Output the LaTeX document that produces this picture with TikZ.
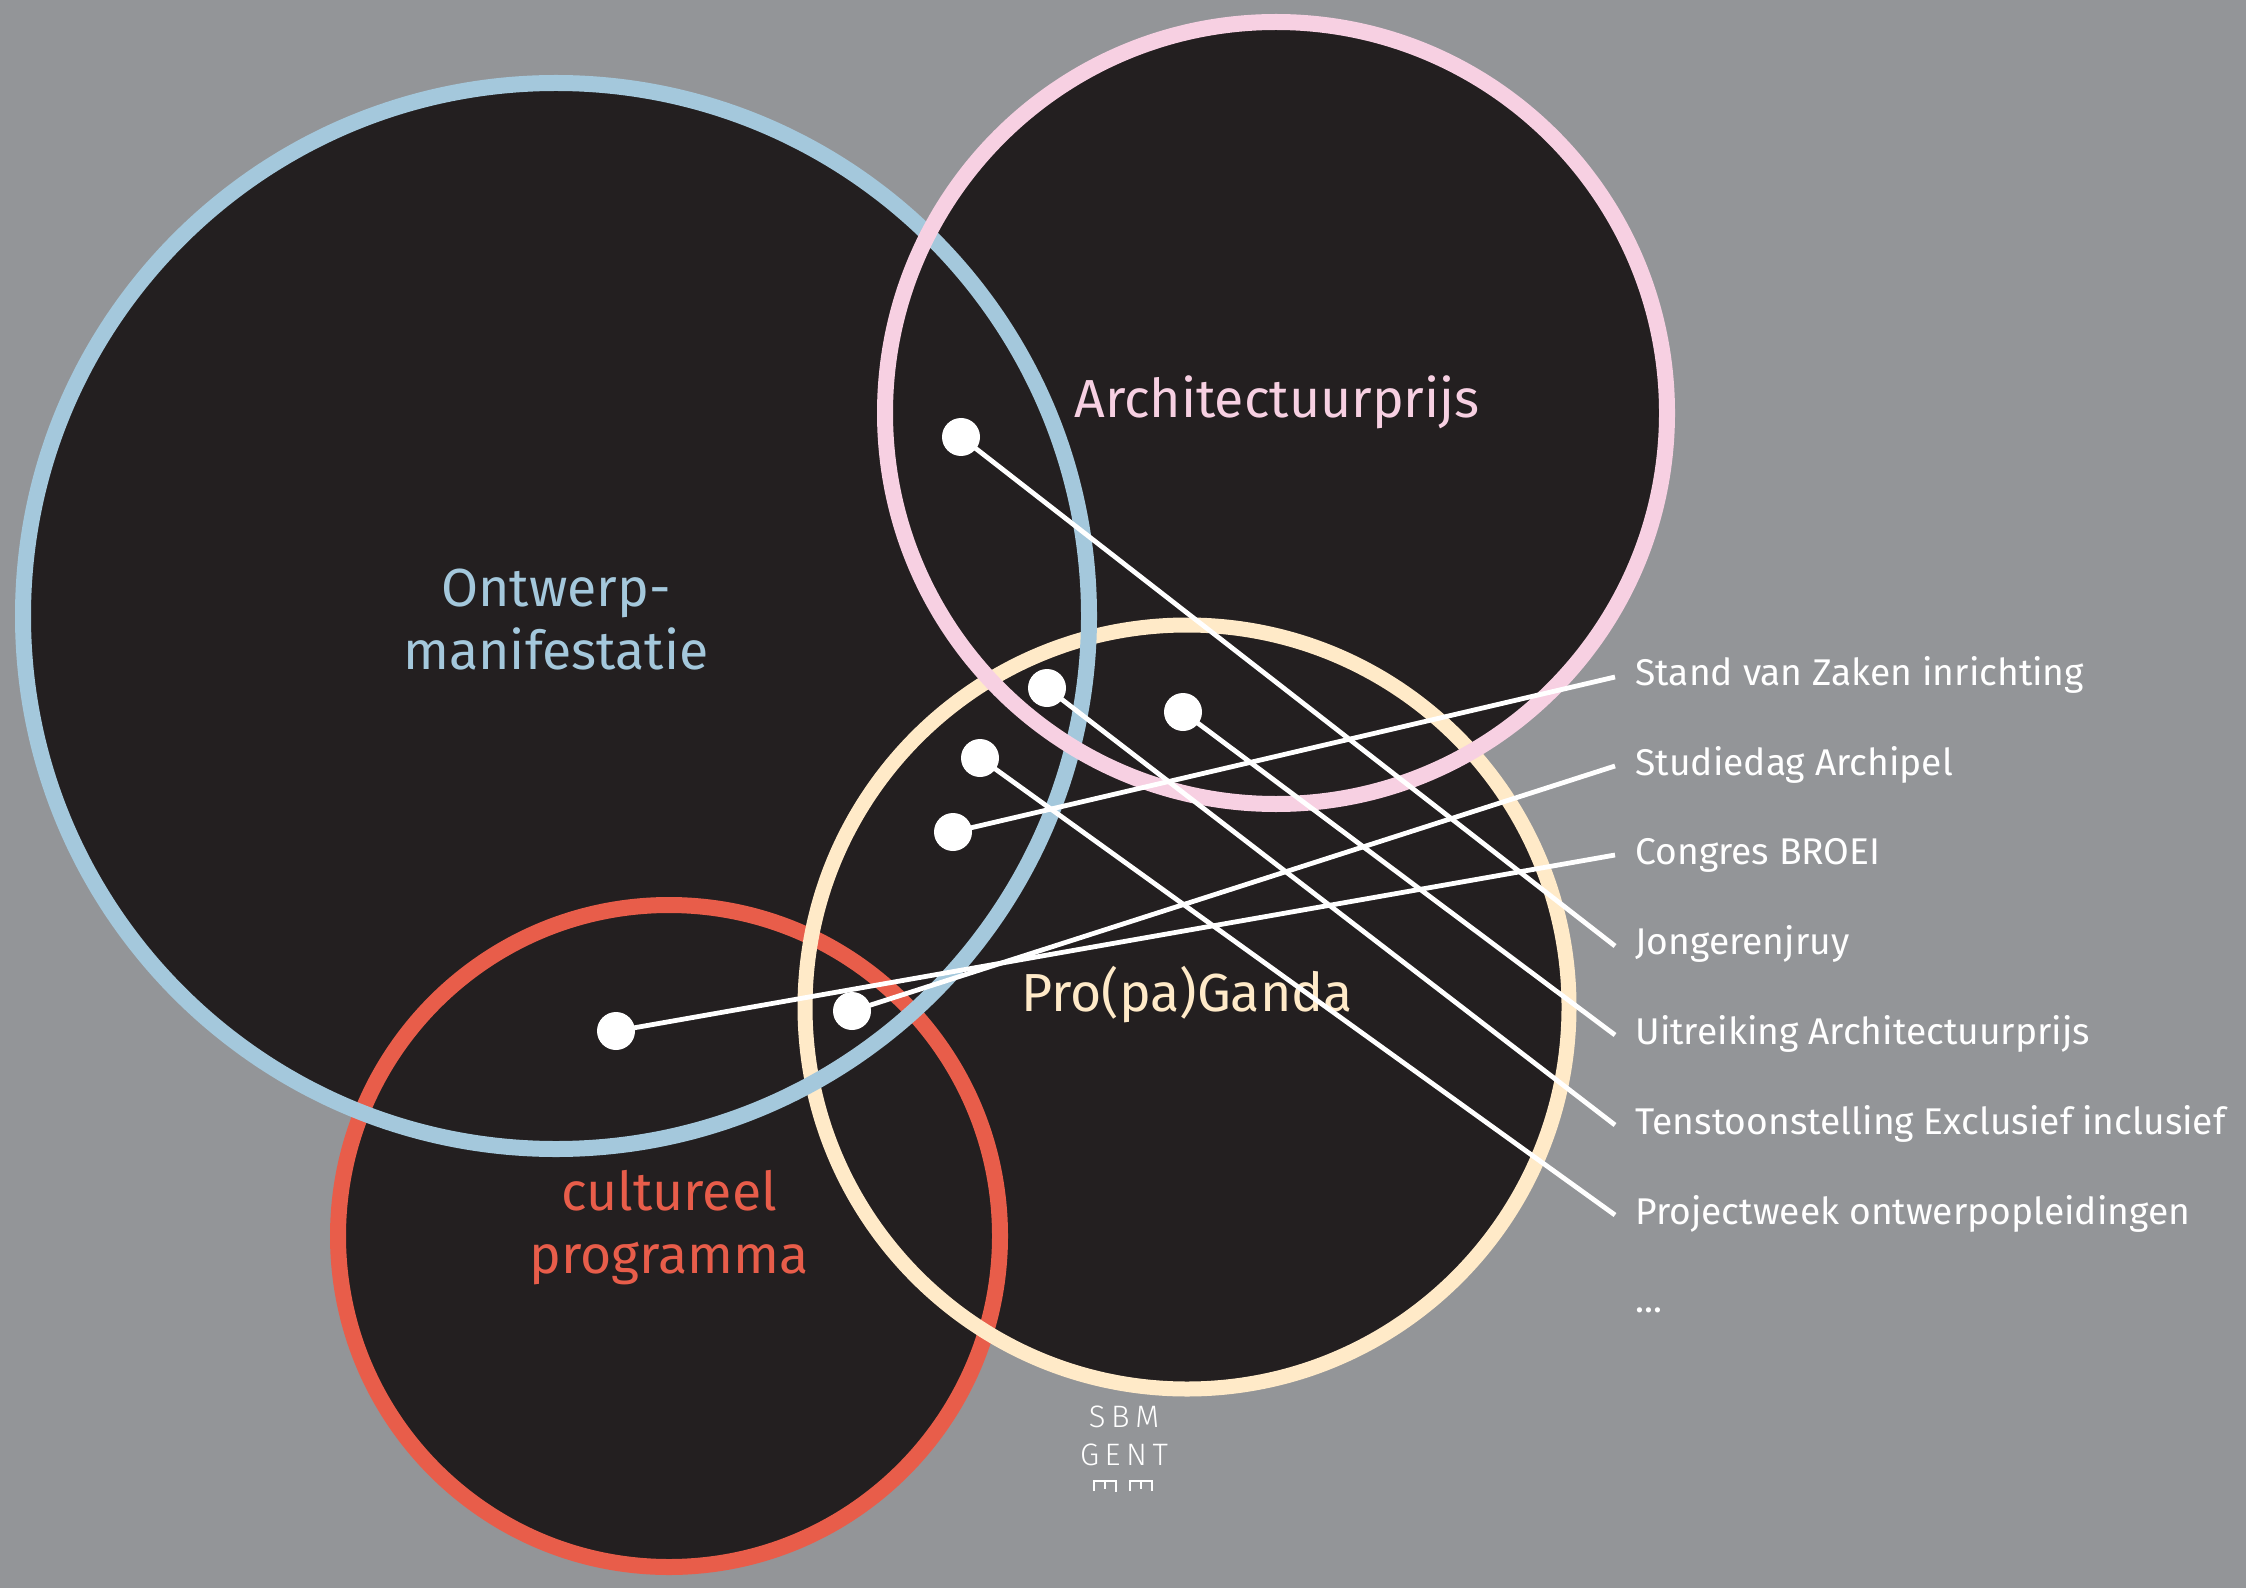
\documentclass[tikz,border=0pt]{standalone}
\usepackage{fontspec}
\setmainfont{Fira Sans}
\newfontfamily\logofont[LetterSpace=18]{Fira Sans Light}
\definecolor{bg}{HTML}{939598}
\definecolor{dark}{HTML}{231F20}
\definecolor{cblue}{HTML}{A4C8DC}
\definecolor{cpink}{HTML}{F7D0E2}
\definecolor{cyel}{HTML}{FFEAC8}
\definecolor{cred}{HTML}{E85D4A}
\begin{document}
\begin{tikzpicture}[x=0.5pt,y=-0.5pt,
  ring/.style={line width=8pt},
  dotnode/.style={circle,fill=white,inner sep=0pt,minimum size=19pt},
  conn/.style={white,line width=2.4pt},
  item/.style={anchor=base west,text=white,font=\fontsize{18.6}{22}\selectfont,inner sep=0pt},
  big/.style={anchor=base,font=\fontsize{26.8}{32}\selectfont,inner sep=0pt},
  logo/.style={anchor=base,text=white,font=\logofont\fontsize{15.5}{18}\selectfont,inner sep=0pt},
  logomark/.style={white,line width=0.7pt}]
\fill[bg] (0,0) rectangle (2246,1588);
\useasboundingbox (0,0) rectangle (2246,1588);
% fills
\fill[dark] (556,616) circle[radius=533];
\fill[dark] (1276,413) circle[radius=391];
\fill[dark] (1187,1007) circle[radius=382];
\fill[dark] (669,1236) circle[radius=331];
% rings
\draw[ring,cred] (669,1236) circle[radius=331];
\draw[ring,cyel,line width=7.5pt] (1187,1007) circle[radius=382];
\draw[ring,cblue] (556,616) circle[radius=533];
\draw[ring,cpink] (1276,413) circle[radius=391];
% main labels
\node[big,text=cpink] (arch) at (1277,418) {Architectuurprijs};
\node[big,text=cblue] (ont1) at (556,606) {Ontwerp-};
\node[big,text=cblue] (ont2) at (556,669) {manifestatie};
\node[big,text=cyel] (prop) at (1187,1011) {Pro(pa)Ganda};
\node[big,text=cred] (cul1) at (669,1210) {cultureel};
\node[big,text=cred] (cul2) at (669,1273) {programma};
% item labels
\node[item] (l1) at (1635,685) {Stand van Zaken inrichting};
\node[item] (l2) at (1635,775) {Studiedag Archipel};
\node[item] (l3) at (1635,864) {Congres BROEI};
\node[item] (l4) at (1635,954) {Jongerenjruy};
\node[item] (l5) at (1635,1044) {Uitreiking Architectuurprijs};
\node[item] (l6) at (1635,1134) {Tenstoonstelling Exclusief inclusief};
\node[item] (l7) at (1635,1224) {Projectweek ontwerpopleidingen};
\node[item] (l8) at (1635,1312) {...};
% connector ends
\coordinate (e1) at (1615,677);
\coordinate (e2) at (1615,766);
\coordinate (e3) at (1615,855);
\coordinate (e4) at (1615,946);
\coordinate (e5) at (1615,1035);
\coordinate (e6) at (1615,1125);
\coordinate (e7) at (1615,1215);
% dot positions
\coordinate (p1) at (953,832);
\coordinate (p2) at (852,1011);
\coordinate (p3) at (616,1031);
\coordinate (p4) at (961,437);
\coordinate (p5) at (1183,712);
\coordinate (p6) at (1047,688);
\coordinate (p7) at (980,758);
\draw[conn] (p1) -- (e1);
\draw[conn] (p2) -- (e2);
\draw[conn] (p3) -- (e3);
\draw[conn] (p4) -- (e4);
\draw[conn] (p5) -- (e5);
\draw[conn] (p6) -- (e6);
\draw[conn] (p7) -- (e7);
\node[dotnode] (d1) at (p1) {};
\node[dotnode] (d2) at (p2) {};
\node[dotnode] (d3) at (p3) {};
\node[dotnode] (d4) at (p4) {};
\node[dotnode] (d5) at (p5) {};
\node[dotnode] (d6) at (p6) {};
\node[dotnode] (d7) at (p7) {};
% logo
\node[logo] (sbm) at (1124,1427) {SBM};
\node[logo] (gent) at (1124,1465) {GENT};
\draw[logomark] (1094,1491) -- (1094,1481) -- (1116,1481) -- (1116,1492)
  (1105,1481) -- (1105,1489);
\draw[logomark] (1130,1491) -- (1130,1481) -- (1152,1481) -- (1152,1491)
  (1141,1481) -- (1141,1489);
\end{tikzpicture}
\end{document}
